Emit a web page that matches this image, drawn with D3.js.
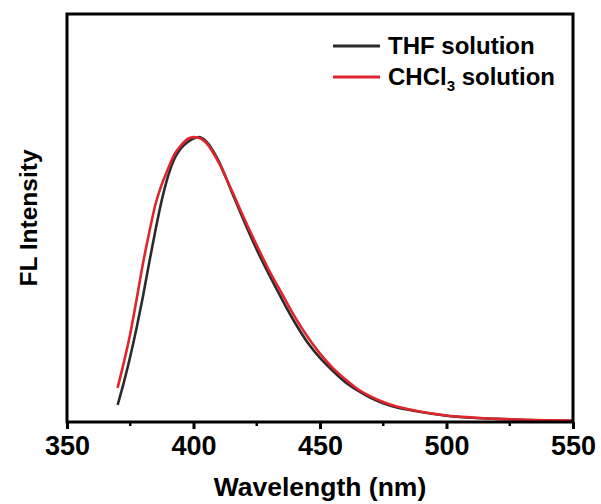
<!DOCTYPE html>
<html>
<head>
<meta charset="utf-8">
<script src="https://cdn.jsdelivr.net/npm/d3@7"></script>
<style>
  body { margin: 0; background: #fff; }
  text { font-family: "Liberation Sans", Arial, sans-serif; font-weight: bold; fill: #000; }
</style>
</head>
<body>
<svg id="chart" width="601" height="504"></svg>
<script>
// wavelength (nm) and normalized FL intensity
const wavelengths = [370, 372.5, 375, 377.5, 380, 382.5, 385, 387.5, 390, 392.5, 395, 398, 400, 402, 405, 410, 415, 420, 425,
  430, 435, 440, 445, 450, 455, 460, 465, 470, 475, 480, 485, 490, 495, 500, 510, 520, 530, 540, 550];
const thfValues = [0.06, 0.14, 0.23, 0.33, 0.44, 0.56, 0.675, 0.78, 0.865, 0.925, 0.96, 0.985, 0.995, 1.0, 0.985, 0.915, 0.81, 0.705, 0.605,
  0.515, 0.43, 0.35, 0.28, 0.225, 0.18, 0.14, 0.11, 0.085, 0.066, 0.052, 0.043, 0.035, 0.028, 0.022, 0.015, 0.011, 0.008, 0.005, 0.004];
const chcl3Values = [0.12, 0.21, 0.31, 0.43, 0.555, 0.665, 0.765, 0.835, 0.89, 0.94, 0.97, 0.995, 1.0, 0.998, 0.98, 0.91, 0.815, 0.715, 0.62,
  0.53, 0.45, 0.37, 0.30, 0.24, 0.19, 0.15, 0.115, 0.09, 0.07, 0.055, 0.045, 0.036, 0.029, 0.023, 0.016, 0.011, 0.008, 0.006, 0.005];
const xTicks = [350, 400, 450, 500, 550];
const xMinorTicks = [375, 425, 475, 525];

const series = [
  { name: "THF", values: thfValues, color: "#2b2b2b" },
  { name: "CHCl3", values: chcl3Values, color: "#e0262c" },
];

const margin = { left: 67, right: 28, top: 14, bottom: 82 };
const W = 601, H = 504;
const svg = d3.select("#chart");

const x = d3.scaleLinear().domain([350, 550]).range([margin.left, W - margin.right]);
const y = d3.scaleLinear().domain([0, 1.432]).range([H - margin.bottom, margin.top]);

// curves
const line = d3.line()
  .x((d, i) => x(wavelengths[i]))
  .y(d => y(d))
  .curve(d3.curveMonotoneX);

svg.append("g").selectAll("path")
  .data(series)
  .join("path")
  .attr("fill", "none")
  .attr("stroke", d => d.color)
  .attr("stroke-width", 2.6)
  .attr("d", d => line(d.values));

// frame
svg.append("rect")
  .attr("x", margin.left)
  .attr("y", margin.top)
  .attr("width", W - margin.left - margin.right)
  .attr("height", H - margin.top - margin.bottom)
  .attr("fill", "none")
  .attr("stroke", "#000")
  .attr("stroke-width", 3);

// bottom axis
const xAxis = svg.append("g")
  .attr("transform", `translate(0,${H - margin.bottom})`)
  .call(d3.axisBottom(x).tickValues(xTicks).tickSize(7).tickPadding(7).tickFormat(d3.format("d")));
xAxis.select(".domain").remove();
xAxis.selectAll(".tick line").attr("stroke", "#000").attr("stroke-width", 3);
xAxis.selectAll(".tick text")
  .attr("font-size", 27)
  .attr("font-family", null)
  .attr("fill", "#000");

svg.append("g")
  .attr("transform", `translate(0,${H - margin.bottom})`)
  .selectAll("line")
  .data(xMinorTicks)
  .join("line")
  .attr("x1", d => x(d)).attr("x2", d => x(d))
  .attr("y1", 0).attr("y2", 4)
  .attr("stroke", "#000")
  .attr("stroke-width", 2.5);

// axis titles
svg.append("text")
  .attr("x", (margin.left + W - margin.right) / 2)
  .attr("y", 496)
  .attr("text-anchor", "middle")
  .attr("font-size", 26.5)
  .text("Wavelength (nm)");

svg.append("text")
  .attr("transform", `translate(37,${(margin.top + H - margin.bottom) / 2}) rotate(-90)`)
  .attr("text-anchor", "middle")
  .attr("font-size", 24.5)
  .text("FL Intensity");

// legend
const legend = svg.append("g");
const legendRows = [
  { label: "THF solution", color: series[0].color, y: 46 },
  { label: "CHCl", sub: "3", rest: " solution", color: series[1].color, y: 77 },
];
legendRows.forEach(r => {
  legend.append("line")
    .attr("x1", 333).attr("x2", 380)
    .attr("y1", r.y).attr("y2", r.y)
    .attr("stroke", r.color)
    .attr("stroke-width", 3);
  const t = legend.append("text")
    .attr("x", 388)
    .attr("y", r.y + 8)
    .attr("font-size", 24);
  if (r.sub) {
    t.append("tspan").text(r.label);
    t.append("tspan").attr("dy", 6).attr("font-size", 15).text(r.sub);
    t.append("tspan").attr("dy", -6).text(r.rest);
  } else {
    t.text(r.label);
  }
});
</script>
</body>
</html>
